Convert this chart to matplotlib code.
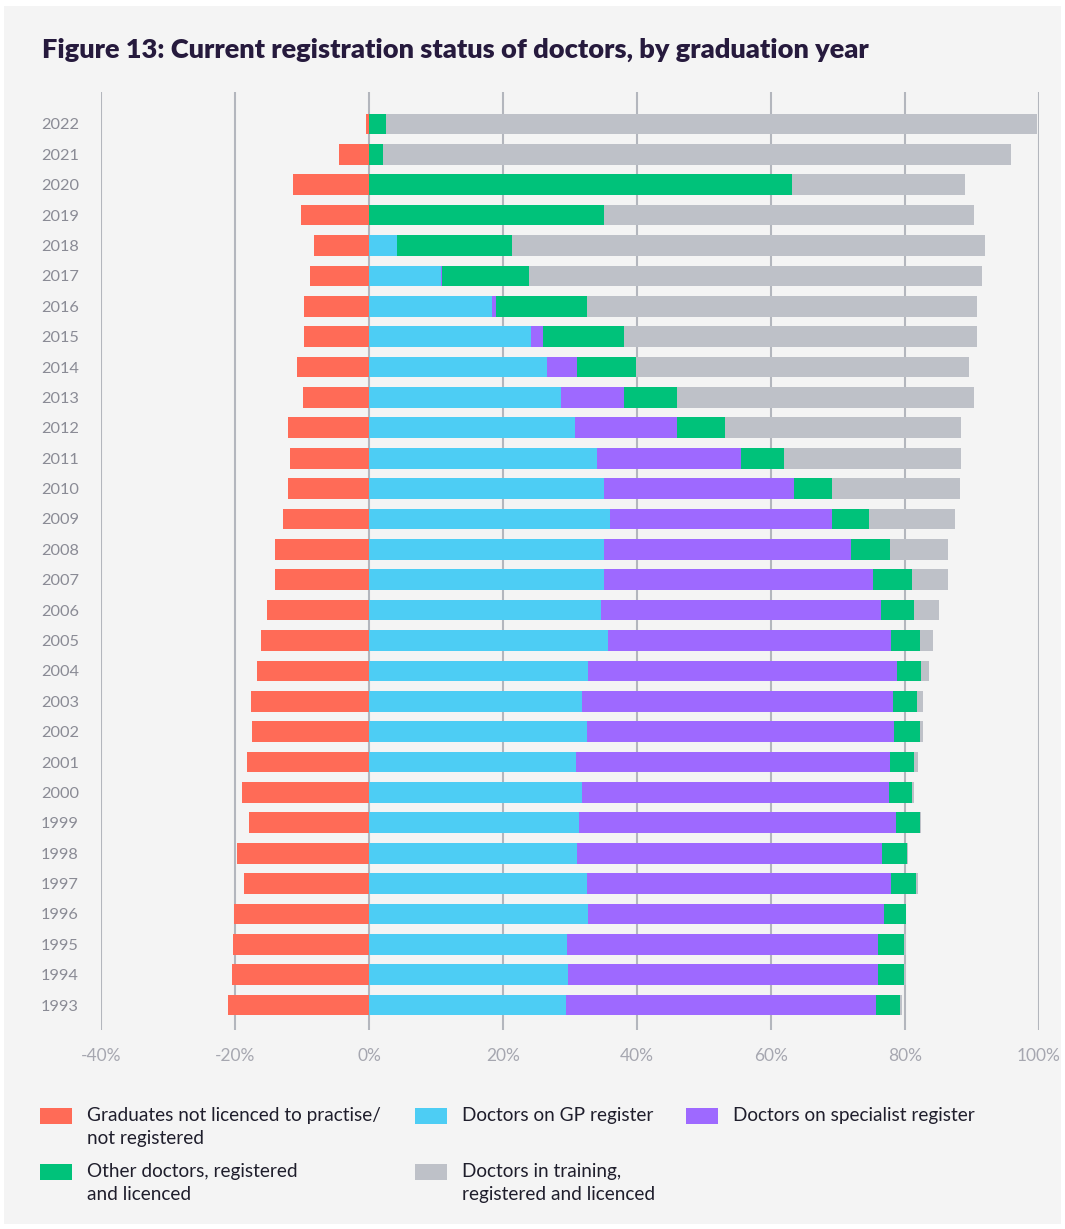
import numpy as np
import matplotlib.pyplot as plt
from matplotlib.patches import Rectangle

plt.rcParams['font.family'] = ['Lato', 'DejaVu Sans']

# Registration status by graduation year (% of graduates)
years = list(range(2022, 1992, -1))
not_registered = [0.5, 4.5, 11.4, 10.2, 8.2, 8.8, 9.7, 9.7, 10.8, 9.9,
                  12.1, 11.8, 12.1, 12.9, 14.1, 14.1, 15.2, 16.1, 16.7, 17.6,
                  17.5, 18.2, 19.0, 17.9, 19.7, 18.6, 20.1, 20.3, 20.5, 21.0]
gp = [0.0, 0.0, 0.0, 0.0, 4.2, 10.8, 18.4, 24.2, 26.5, 28.7,
      30.8, 34.1, 35.1, 36.0, 35.1, 35.1, 34.7, 35.6, 32.7, 31.8,
      32.6, 30.9, 31.8, 31.4, 31.1, 32.6, 32.7, 29.6, 29.7, 29.4]
specialist = [0.0, 0.0, 0.0, 0.0, 0.0, 0.15, 0.6, 1.8, 4.6, 9.3,
              15.1, 21.4, 28.4, 33.1, 36.8, 40.1, 41.7, 42.3, 46.1, 46.4,
              45.7, 46.8, 45.8, 47.3, 45.5, 45.3, 44.2, 46.3, 46.2, 46.3]
other = [2.5, 2.1, 63.2, 35.1, 17.2, 13.0, 13.6, 12.0, 8.7, 7.9,
         7.3, 6.5, 5.6, 5.6, 5.8, 5.8, 4.9, 4.3, 3.6, 3.6,
         3.9, 3.6, 3.5, 3.5, 3.7, 3.7, 3.2, 3.9, 3.9, 3.5]
training = [97.2, 93.7, 25.7, 55.2, 70.5, 67.6, 58.1, 52.7, 49.7, 44.4,
            35.1, 26.3, 19.1, 12.7, 8.7, 5.4, 3.8, 2.0, 1.2, 0.9,
            0.5, 0.7, 0.3, 0.2, 0.2, 0.3, 0.1, 0.3, 0.3, 0.3]
xticks = [-40, -20, 0, 20, 40, 60, 80, 100]

labels = ["Graduates not licenced to practise/\nnot registered",
          "Doctors on GP register",
          "Doctors on specialist register",
          "Other doctors, registered\nand licenced",
          "Doctors in training,\nregistered and licenced"]
colors = ["#FF6B57", "#4DCDF4", "#9E69FF", "#00C27A", "#BEC1C8"]

bg = "#F4F4F4"
fig = plt.figure(figsize=(10.65, 12.29), dpi=100, facecolor="white")
fig.patches.append(Rectangle((0.004, 0.004), 0.992, 0.991, transform=fig.transFigure,
                             facecolor=bg, edgecolor="none", zorder=-10))

ax = fig.add_axes([0.0948, 0.1619, 0.8808, 0.7632])
ax.set_facecolor("none")

y = np.arange(len(years))
h = 0.68
ax.barh(y, [-v for v in not_registered], height=h, color=colors[0], zorder=3)
left = np.zeros(len(years))
for vals, c in zip([gp, specialist, other, training], colors[1:]):
    ax.barh(y, vals, left=left, height=h, color=c, zorder=3)
    left = left + np.array(vals)

ax.set_xlim(-40, 100)
ax.set_ylim(len(years) - 1 + 0.82, -1.05)
ax.set_xticks(xticks)
ax.set_xticklabels([f"{t}%" for t in xticks])
ax.set_yticks(y)
ax.set_yticklabels([str(v) for v in years])
ax.tick_params(axis="x", length=0, pad=13, labelsize=12.5, labelcolor="#A6A7B0")
ax.tick_params(axis="y", length=0, pad=16, labelsize=11.8, labelcolor="#8A8B95")
ax.grid(axis="x", color="#B3B6BD", linewidth=1.5, zorder=0)
ax.grid(axis="y", visible=False)
for s in ax.spines.values():
    s.set_visible(False)

fig.text(42 / 1065, 1 - 50 / 1229, "Figure 13: Current registration status of doctors, by graduation year",
         fontsize=19.5, fontweight="heavy", color="#261A3D", va="center", ha="left")

# legend laid out in a grid like the original
pos = [(40, 1108), (415, 1108), (686, 1108), (40, 1164), (415, 1164)]
for i, (px, py) in enumerate(pos):
    fig.patches.append(Rectangle((px / 1065, 1 - (py + 16) / 1229), 32 / 1065, 16 / 1229,
                                 transform=fig.transFigure, facecolor=colors[i], edgecolor="none"))
    fig.text((px + 47) / 1065, 1 - (py - 1) / 1229, labels[i], fontsize=13.7, color="#1F1E2C",
             va="top", ha="left", linespacing=1.42)

fig.savefig("out.png", dpi=100, facecolor="white")
